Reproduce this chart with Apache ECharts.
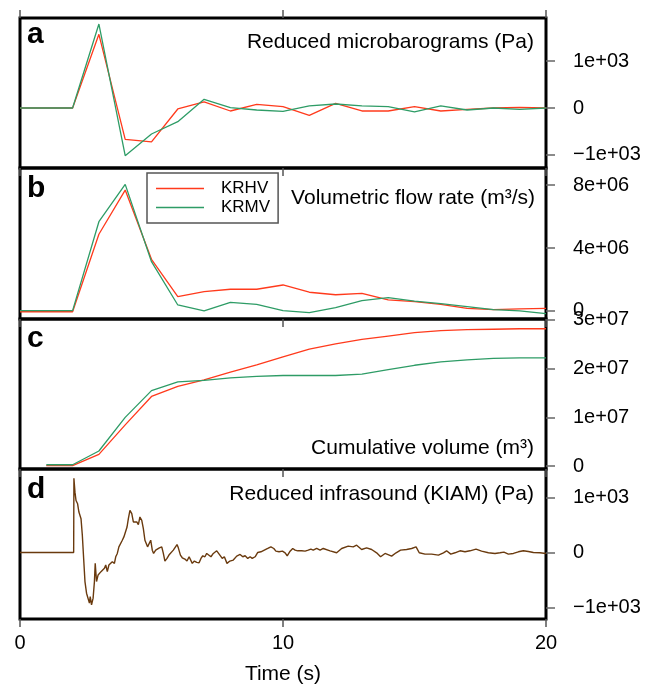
<!DOCTYPE html>
<html>
<head>
<meta charset="utf-8">
<script src="https://cdn.jsdelivr.net/npm/echarts@6/dist/echarts.min.js"></script>
<style>
  html, body { margin: 0; padding: 0; background: #fff; }
  #main { width: 660px; height: 686px; }
</style>
</head>
<body>
<div id="main"></div>
<script>
// panel a: reduced microbarograms (Pa), 1 s steps
var aTime = [0,1,2,3,4,5,6,7,8,9,10,11,12,13,14,15,16,17,18,19,20];
var aKRHV = [0,0,0,1568,-667,-723,-21,128,-64,78,28,-156,99,-64,-64,28,-64,-28,0,14,0];
var aKRMV = [0,0,0,1787,-1014,-553,-291,185,7,-43,-71,43,85,43,28,-85,43,-43,0,-28,0];

// panel b: volumetric flow rate (m3/s)
var bTime = aTime;
var bKRHV = [-0.05e6,-0.05e6,-0.05e6,4.87e6,7.68e6,3.28e6,0.91e6,1.23e6,1.38e6,1.38e6,1.65e6,1.19e6,1.03e6,1.12e6,0.70e6,0.59e6,0.42e6,0.17e6,0.08e6,0.13e6,0.17e6];
var bKRMV = [0.02e6,0.02e6,0.02e6,5.67e6,8.04e6,3.13e6,0.38e6,0,0.55e6,0.42e6,0.02e6,-0.11e6,0.21e6,0.66e6,0.85e6,0.63e6,0.46e6,0.28e6,0.08e6,0,-0.17e6];

// panel c: cumulative volume (m3)
var cTime = [1,2,3,4,5,6,7,8,9,10,11,12,13,14,15,16,17,18,19,20];
var cKRHV = [0.1e6,0.1e6,2.4e6,8.45e6,14.3e6,16.35e6,17.7e6,19.3e6,20.8e6,22.4e6,24.0e6,25.1e6,26.0e6,26.7e6,27.4e6,27.8e6,28.0e6,28.1e6,28.2e6,28.2e6];
var cKRMV = [0.27e6,0.27e6,3.1e6,10.0e6,15.5e6,17.3e6,17.6e6,18.1e6,18.4e6,18.6e6,18.6e6,18.6e6,18.9e6,19.8e6,20.7e6,21.4e6,21.8e6,22.1e6,22.2e6,22.2e6];

// panel d: reduced infrasound KIAM (Pa)
var dTime = [0,2.04,2.05,2.09,2.13,2.19,2.24,2.32,2.37,2.42,2.47,2.53,2.60,2.64,2.67,2.72,2.78,2.83,2.86,2.91,2.97,
  3.03,3.08,3.14,3.21,3.26,3.32,3.38,3.45,3.51,3.59,3.64,3.70,3.76,3.81,3.89,3.95,
  4.02,4.07,4.12,4.18,4.25,4.31,4.37,4.44,4.50,4.56,4.63,4.69,4.75,4.85,4.90,4.97,
  5.03,5.08,5.16,5.23,5.30,5.39,5.45,5.51,5.59,5.68,5.74,5.83,5.89,5.97,
  6.02,6.10,6.17,6.27,6.35,6.43,6.49,6.55,6.63,6.72,6.81,6.88,6.95,
  7.03,7.10,7.16,7.26,7.35,7.48,7.60,7.69,7.77,7.87,7.98,
  8.11,8.24,8.37,8.47,8.56,8.66,8.75,8.83,8.94,
  9.04,9.16,9.29,9.42,9.54,9.65,9.73,9.85,9.98,
  10.08,10.16,10.27,10.37,10.46,10.56,10.71,10.84,10.96,
  11.06,11.15,11.28,11.41,11.53,11.79,12.04,12.23,12.48,12.67,12.80,12.99,
  13.18,13.37,13.56,13.71,13.88,14.04,14.13,14.30,14.47,14.70,14.89,
  15.06,15.18,15.40,15.65,15.91,16.10,16.22,16.38,16.54,16.73,16.92,
  17.11,17.34,17.55,17.81,18.06,18.25,18.40,18.57,18.76,18.95,
  19.14,19.33,19.52,19.77,20.0];
var dValue = [0,0,1346,1094,943,883,733,613,312,-108,-528,-739,-709,-919,-799,-949,-829,-528,-198,-528,-408,
  -438,-348,-378,-288,-228,-348,-228,-258,-168,-198,-78,-18,102,72,222,282,
  312,462,613,763,703,553,550,553,505,643,583,433,222,102,102,222,
  42,-18,42,24,84,102,-18,-156,-108,-36,-18,42,24,144,
  84,-48,-96,-120,-156,-78,-78,-198,-156,-180,-186,-108,-60,
  -78,-18,6,-78,-18,30,-48,-108,-78,-198,-156,
  -138,-66,-36,-78,-60,-108,-78,-108,-78,
  0,12,42,72,102,72,24,12,24,
  -6,-60,24,72,42,30,30,24,42,
  60,42,72,42,72,30,-6,72,114,102,132,54,
  84,54,-6,-78,-18,-48,-66,-6,42,54,72,
  102,-6,-30,-30,-48,-6,30,-30,-6,30,12,
  30,60,24,-6,-18,-6,6,-30,-18,12,
  30,18,0,-6,-18];

var aTicks = [-1000, 0, 1000];
var bTicks = [0, 4e6, 8e6];
var cTicks = [0, 1e7, 2e7, 3e7];
var dTicks = [-1000, 0, 1000];
var tickText = {
  '-1000': '\u22121e+03', '0': '0', '1000': '1e+03',
  '4000000': '4e+06', '8000000': '8e+06',
  '10000000': '1e+07', '20000000': '2e+07', '30000000': '3e+07'
};

function pairs(xs, ys) {
  return xs.map(function (x, i) { return [x, ys[i]]; });
}

var FONT = "'Liberation Sans', Helvetica, Arial, sans-serif";
var RED = '#ff3a1c';
var GREEN = '#2e9c66';
var BROWN = '#6a3a0e';

var grids = [
  { left: 20, width: 526, top: 18, height: 150 },
  { left: 20, width: 526, top: 168, height: 151 },
  { left: 20, width: 526, top: 319, height: 150 },
  { left: 20, width: 526, top: 469, height: 152 }
].map(function (g) {
  g.show = true; g.borderColor = '#000'; g.borderWidth = 3; g.backgroundColor = 'transparent';
  return g;
});

function xAxis(gi, pos, showLabel) {
  return {
    type: 'value', gridIndex: gi, position: pos, min: 0, max: 20, interval: 10,
    axisLine: { show: false, onZero: false },
    axisTick: { show: true, inside: false, length: 8, lineStyle: { color: '#555', width: 1.5 } },
    axisLabel: { show: showLabel, fontSize: 20, color: '#000', fontFamily: FONT, margin: 14 },
    splitLine: { show: false }
  };
}

function yAxis(gi, min, max, ticks) {
  return {
    type: 'value', gridIndex: gi, position: 'right', min: min, max: max,
    axisLine: { show: false, onZero: false },
    axisTick: { show: true, inside: false, length: 9, customValues: ticks, lineStyle: { color: '#666', width: 1.5 } },
    axisLabel: {
      show: true, customValues: ticks, fontSize: 20, color: '#000', fontFamily: FONT, margin: 27,
      hideOverlap: false, showMinLabel: true, showMaxLabel: true,
      formatter: function (v) { return tickText[String(Math.round(v))] || String(v); }
    },
    splitLine: { show: false }
  };
}

var xAxes = [xAxis(0, 'bottom', false), xAxis(0, 'top', false), xAxis(1, 'bottom', false), xAxis(2, 'bottom', false), xAxis(3, 'bottom', true)];
xAxes[4].name = 'Time (s)';
xAxes[4].nameLocation = 'middle';
xAxes[4].nameGap = 45;
xAxes[4].nameTextStyle = { fontSize: 21, color: '#000', fontFamily: FONT };

var yAxes = [
  yAxis(0, -1277, 1915, aTicks),
  yAxis(1, -0.51e6, 9.08e6, bTicks),
  yAxis(2, -0.6e6, 3.02e7, cTicks),
  yAxis(3, -1207, 1514, dTicks)
];

function line(name, xi, yi, data, color, w) {
  return {
    name: name, type: 'line', xAxisIndex: xi, yAxisIndex: yi, data: data,
    symbol: 'none', showSymbol: false, animation: false, silent: true,
    lineStyle: { color: color, width: w }, itemStyle: { color: color }
  };
}

function label(txt, x, y, size, bold, align) {
  return {
    type: 'text', x: x, y: y, silent: true,
    style: {
      text: txt, fill: '#000', align: align || 'right', verticalAlign: 'middle',
      font: (bold ? 'bold ' : '') + size + 'px ' + FONT
    }
  };
}

var chart = echarts.init(document.getElementById('main'), null, { renderer: 'canvas' });
chart.setOption({
  animation: false,
  backgroundColor: '#fff',
  grid: grids,
  xAxis: xAxes,
  yAxis: yAxes,
  legend: {
    data: ['KRHV', 'KRMV'], orient: 'vertical', left: 147, top: 173,
    padding: [7, 8, 7, 9], itemWidth: 48, itemHeight: 1.5, itemGap: 2, icon: 'rect',
    borderColor: '#555', borderWidth: 1.5, backgroundColor: '#fff',
    textStyle: { fontSize: 17, color: '#000', fontFamily: FONT, padding: [0, 0, 0, 12] }
  },
  series: [
    line('KRHV', 0, 0, pairs(aTime, aKRHV), RED, 1.3),
    line('KRMV', 0, 0, pairs(aTime, aKRMV), GREEN, 1.3),
    line('KRHV', 2, 1, pairs(bTime, bKRHV), RED, 1.3),
    line('KRMV', 2, 1, pairs(bTime, bKRMV), GREEN, 1.3),
    line('KRHV', 3, 2, pairs(cTime, cKRHV), RED, 1.3),
    line('KRMV', 3, 2, pairs(cTime, cKRMV), GREEN, 1.3),
    line('KIAM', 4, 3, pairs(dTime, dValue), BROWN, 1.4)
  ],
  graphic: [
    label('a', 27, 35, 30, true, 'left'),
    label('b', 27, 189, 30, true, 'left'),
    label('c', 27, 339, 30, true, 'left'),
    label('d', 27, 490, 30, true, 'left'),
    label('Reduced microbarograms (Pa)', 534, 42, 21),
    label('Volumetric flow rate (m\u00b3/s)', 535, 198, 21),
    label('Cumulative volume (m\u00b3)', 534, 448, 21),
    label('Reduced infrasound (KIAM) (Pa)', 534, 494, 21)
  ]
});
</script>
</body>
</html>
